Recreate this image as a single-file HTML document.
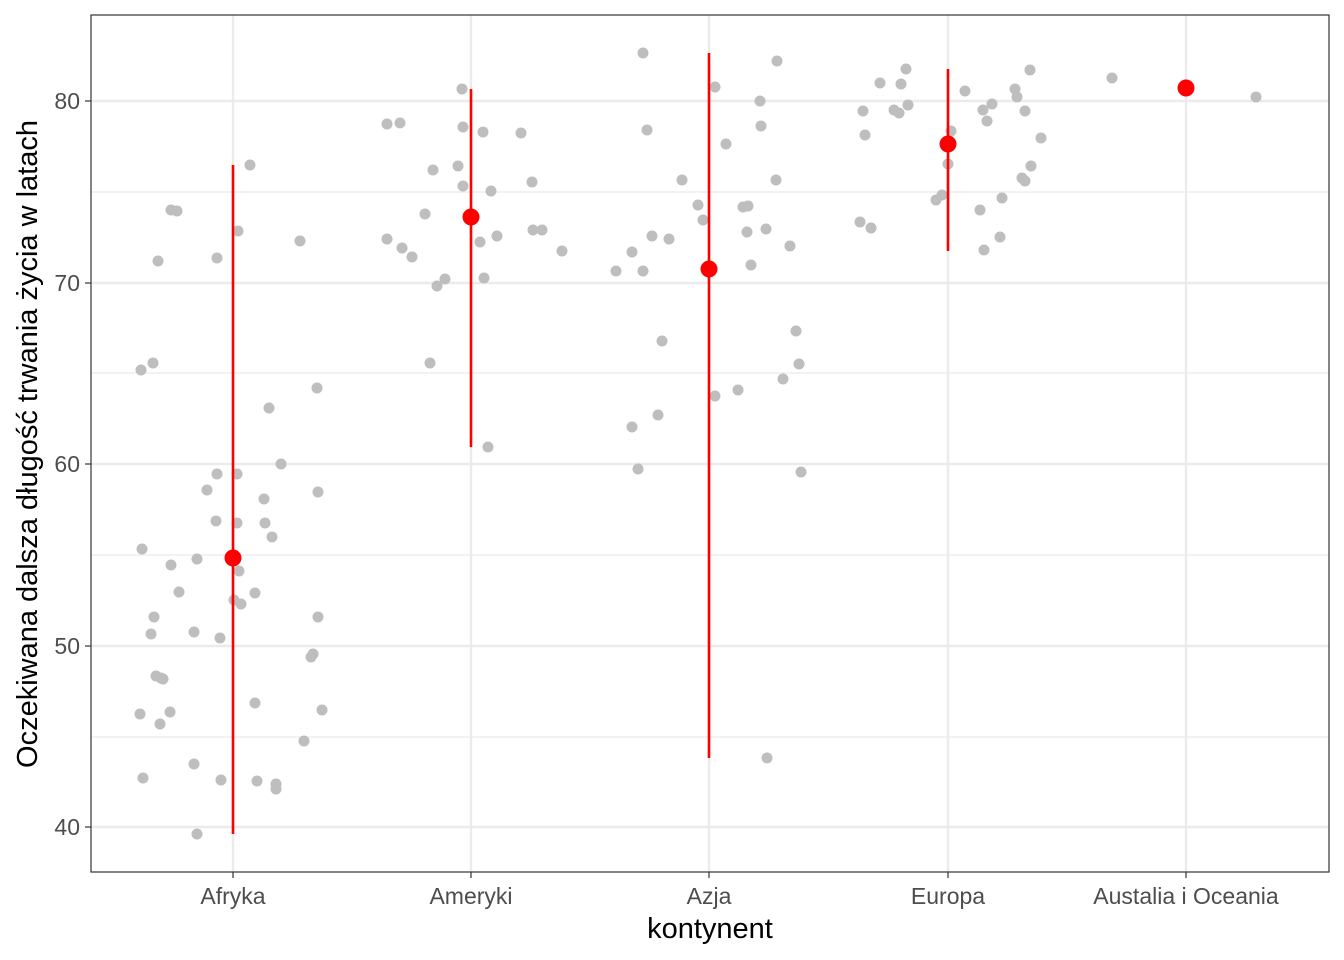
<!DOCTYPE html>
<html><head><meta charset="utf-8"><style>body{margin:0;background:#fff}svg{display:block}</style></head><body>
<svg width="1344" height="960" xmlns="http://www.w3.org/2000/svg" font-family="Liberation Sans, sans-serif">
<rect width="1344" height="960" fill="#fff"/>
<g stroke="#ebebeb" stroke-width="1.2">
<line x1="91" x2="1329" y1="192" y2="192"/><line x1="91" x2="1329" y1="373" y2="373"/><line x1="91" x2="1329" y1="555" y2="555"/><line x1="91" x2="1329" y1="737" y2="737"/>
</g>
<g stroke="#ebebeb" stroke-width="2.4">
<line x1="91" x2="1329" y1="101" y2="101"/><line x1="91" x2="1329" y1="283" y2="283"/><line x1="91" x2="1329" y1="464" y2="464"/><line x1="91" x2="1329" y1="646" y2="646"/><line x1="91" x2="1329" y1="827" y2="827"/>
<line x1="233" x2="233" y1="15" y2="872"/><line x1="471" x2="471" y1="15" y2="872"/><line x1="709" x2="709" y1="15" y2="872"/><line x1="948" x2="948" y1="15" y2="872"/><line x1="1186" x2="1186" y1="15" y2="872"/>
</g>
<g fill="#bebebe">
<circle cx="250" cy="165" r="5.5"/><circle cx="171" cy="210" r="5.5"/><circle cx="177" cy="211" r="5.5"/><circle cx="238" cy="231" r="5.5"/><circle cx="158" cy="261" r="5.5"/><circle cx="217" cy="258" r="5.5"/><circle cx="300" cy="241" r="5.5"/><circle cx="141" cy="370" r="5.5"/><circle cx="153" cy="363" r="5.5"/><circle cx="269" cy="408" r="5.5"/><circle cx="317" cy="388" r="5.5"/><circle cx="281" cy="464" r="5.5"/><circle cx="217" cy="474" r="5.5"/><circle cx="237" cy="474" r="5.5"/><circle cx="207" cy="490" r="5.5"/><circle cx="264" cy="499" r="5.5"/><circle cx="318" cy="492" r="5.5"/><circle cx="216" cy="521" r="5.5"/><circle cx="237" cy="523" r="5.5"/><circle cx="265" cy="523" r="5.5"/><circle cx="272" cy="537" r="5.5"/><circle cx="142" cy="549" r="5.5"/><circle cx="171" cy="565" r="5.5"/><circle cx="197" cy="559" r="5.5"/><circle cx="239" cy="571" r="5.5"/><circle cx="179" cy="592" r="5.5"/><circle cx="234" cy="600" r="5.5"/><circle cx="241" cy="604" r="5.5"/><circle cx="255" cy="593" r="5.5"/><circle cx="154" cy="617" r="5.5"/><circle cx="318" cy="617" r="5.5"/><circle cx="151" cy="634" r="5.5"/><circle cx="194" cy="632" r="5.5"/><circle cx="220" cy="638" r="5.5"/><circle cx="313" cy="654" r="5.5"/><circle cx="311" cy="657" r="5.5"/><circle cx="156" cy="676" r="5.5"/><circle cx="161" cy="678" r="5.5"/><circle cx="163" cy="679" r="5.5"/><circle cx="140" cy="714" r="5.5"/><circle cx="170" cy="712" r="5.5"/><circle cx="322" cy="710" r="5.5"/><circle cx="160" cy="724" r="5.5"/><circle cx="255" cy="703" r="5.5"/><circle cx="304" cy="741" r="5.5"/><circle cx="194" cy="764" r="5.5"/><circle cx="143" cy="778" r="5.5"/><circle cx="221" cy="780" r="5.5"/><circle cx="257" cy="781" r="5.5"/><circle cx="276" cy="784" r="5.5"/><circle cx="276" cy="789" r="5.5"/><circle cx="197" cy="834" r="5.5"/>
<circle cx="387" cy="124" r="5.5"/><circle cx="400" cy="123" r="5.5"/><circle cx="462" cy="89" r="5.5"/><circle cx="463" cy="127" r="5.5"/><circle cx="483" cy="132" r="5.5"/><circle cx="521" cy="133" r="5.5"/><circle cx="458" cy="166" r="5.5"/><circle cx="433" cy="170" r="5.5"/><circle cx="463" cy="186" r="5.5"/><circle cx="491" cy="191" r="5.5"/><circle cx="532" cy="182" r="5.5"/><circle cx="425" cy="214" r="5.5"/><circle cx="387" cy="239" r="5.5"/><circle cx="402" cy="248" r="5.5"/><circle cx="412" cy="257" r="5.5"/><circle cx="480" cy="242" r="5.5"/><circle cx="497" cy="236" r="5.5"/><circle cx="533" cy="230" r="5.5"/><circle cx="542" cy="230" r="5.5"/><circle cx="562" cy="251" r="5.5"/><circle cx="445" cy="279" r="5.5"/><circle cx="437" cy="286" r="5.5"/><circle cx="484" cy="278" r="5.5"/><circle cx="430" cy="363" r="5.5"/><circle cx="488" cy="447" r="5.5"/>
<circle cx="643" cy="53" r="5.5"/><circle cx="715" cy="87" r="5.5"/><circle cx="777" cy="61" r="5.5"/><circle cx="647" cy="130" r="5.5"/><circle cx="760" cy="101" r="5.5"/><circle cx="761" cy="126" r="5.5"/><circle cx="726" cy="144" r="5.5"/><circle cx="682" cy="180" r="5.5"/><circle cx="776" cy="180" r="5.5"/><circle cx="698" cy="205" r="5.5"/><circle cx="703" cy="220" r="5.5"/><circle cx="743" cy="207" r="5.5"/><circle cx="748" cy="206" r="5.5"/><circle cx="652" cy="236" r="5.5"/><circle cx="669" cy="239" r="5.5"/><circle cx="632" cy="252" r="5.5"/><circle cx="747" cy="232" r="5.5"/><circle cx="766" cy="229" r="5.5"/><circle cx="790" cy="246" r="5.5"/><circle cx="616" cy="271" r="5.5"/><circle cx="643" cy="271" r="5.5"/><circle cx="751" cy="265" r="5.5"/><circle cx="796" cy="331" r="5.5"/><circle cx="662" cy="341" r="5.5"/><circle cx="799" cy="364" r="5.5"/><circle cx="783" cy="379" r="5.5"/><circle cx="738" cy="390" r="5.5"/><circle cx="715" cy="396" r="5.5"/><circle cx="658" cy="415" r="5.5"/><circle cx="632" cy="427" r="5.5"/><circle cx="638" cy="469" r="5.5"/><circle cx="801" cy="472" r="5.5"/><circle cx="767" cy="758" r="5.5"/>
<circle cx="906" cy="69" r="5.5"/><circle cx="880" cy="83" r="5.5"/><circle cx="901" cy="84" r="5.5"/><circle cx="1030" cy="70" r="5.5"/><circle cx="965" cy="91" r="5.5"/><circle cx="1015" cy="89" r="5.5"/><circle cx="863" cy="111" r="5.5"/><circle cx="894" cy="110" r="5.5"/><circle cx="899" cy="113" r="5.5"/><circle cx="908" cy="105" r="5.5"/><circle cx="992" cy="104" r="5.5"/><circle cx="983" cy="110" r="5.5"/><circle cx="1017" cy="97" r="5.5"/><circle cx="1025" cy="111" r="5.5"/><circle cx="987" cy="121" r="5.5"/><circle cx="951" cy="131" r="5.5"/><circle cx="865" cy="135" r="5.5"/><circle cx="1041" cy="138" r="5.5"/><circle cx="948" cy="164" r="5.5"/><circle cx="1031" cy="166" r="5.5"/><circle cx="1022" cy="178" r="5.5"/><circle cx="1025" cy="181" r="5.5"/><circle cx="1002" cy="198" r="5.5"/><circle cx="942" cy="195" r="5.5"/><circle cx="936" cy="200" r="5.5"/><circle cx="980" cy="210" r="5.5"/><circle cx="860" cy="222" r="5.5"/><circle cx="871" cy="228" r="5.5"/><circle cx="1000" cy="237" r="5.5"/><circle cx="984" cy="250" r="5.5"/>
<circle cx="1112" cy="78" r="5.5"/><circle cx="1256" cy="97" r="5.5"/>
</g>
<g stroke="#ff0000" stroke-width="2.6">
<line x1="233" x2="233" y1="165" y2="834"/><line x1="471" x2="471" y1="89" y2="447"/><line x1="709" x2="709" y1="53" y2="758"/><line x1="948" x2="948" y1="69" y2="251"/>
</g>
<g fill="#ff0000">
<circle cx="233" cy="558" r="8.5"/><circle cx="471" cy="217" r="8.5"/><circle cx="709" cy="269" r="8.5"/><circle cx="948" cy="144" r="8.5"/><circle cx="1186" cy="88" r="8.5"/>
</g>
<rect x="91" y="15" width="1238" height="857" fill="none" stroke="#333" stroke-width="1.2"/>
<g stroke="#333" stroke-width="1.2">
<line x1="85" x2="91" y1="101" y2="101"/><line x1="85" x2="91" y1="283" y2="283"/><line x1="85" x2="91" y1="464" y2="464"/><line x1="85" x2="91" y1="646" y2="646"/><line x1="85" x2="91" y1="827" y2="827"/>
<line x1="233" x2="233" y1="872" y2="878"/><line x1="471" x2="471" y1="872" y2="878"/><line x1="709" x2="709" y1="872" y2="878"/><line x1="948" x2="948" y1="872" y2="878"/><line x1="1186" x2="1186" y1="872" y2="878"/>
</g>
<g fill="#4d4d4d" font-size="23" text-anchor="end">
<text x="80" y="109">80</text><text x="80" y="291">70</text><text x="80" y="472">60</text><text x="80" y="654">50</text><text x="80" y="835">40</text>
</g>
<g fill="#4d4d4d" font-size="23" text-anchor="middle">
<text x="233" y="904">Afryka</text><text x="471" y="904">Ameryki</text><text x="709" y="904">Azja</text><text x="948" y="904">Europa</text><text x="1186" y="904">Austalia i Oceania</text>
</g>
<text x="710" y="938" font-size="29" text-anchor="middle" fill="#000">kontynent</text>
<text transform="translate(37,444) rotate(-90)" font-size="29" text-anchor="middle" fill="#000">Oczekiwana dalsza długość trwania życia w latach</text>
</svg>
</body></html>
